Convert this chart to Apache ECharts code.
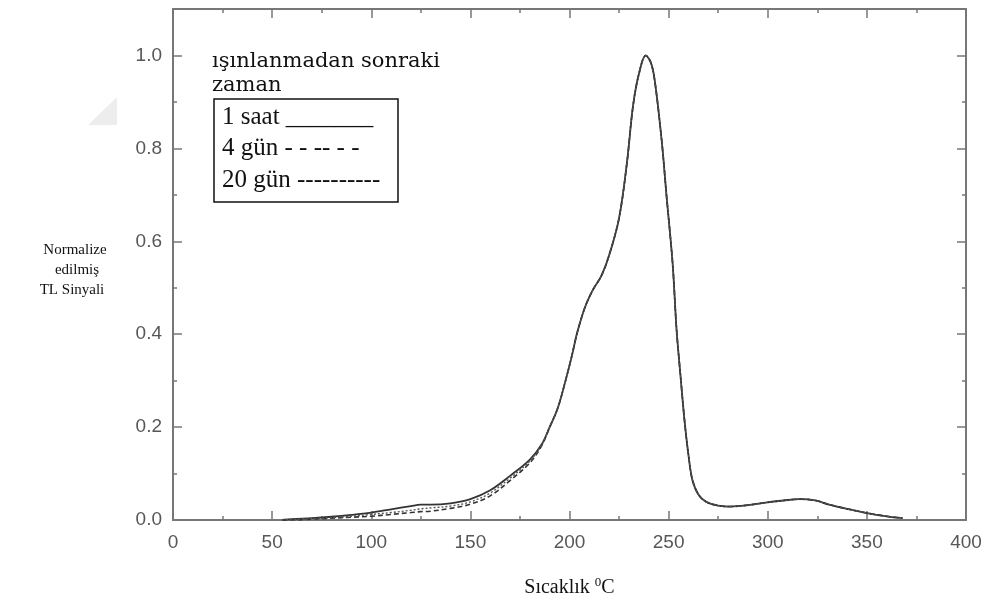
<!DOCTYPE html>
<html>
<head>
<meta charset="utf-8">
<script src="https://cdn.jsdelivr.net/npm/echarts@6/dist/echarts.min.js"></script>
<style>
html,body{margin:0;padding:0;background:#fff;}
#chart{width:986px;height:599px;}
</style>
</head>
<body>
<div id="chart"></div>
<script>
// Temperature (°C)
const temps = [55,60,70,80,90,100,110,120,125,130,140,150,160,170,180,186,190,194,198,201,204,208,212,216,220,225,229,232,235,238.5,241,243,246.5,249,252,254,256,258,260,262,265,269,275,281,290,298,308,316,324,331,340,350,360,368];
// Normalised TL signal — 1 saat (solid)
const saat1 = [0,0.002,0.004,0.007,0.011,0.016,0.023,0.030,0.033,0.033,0.036,0.045,0.064,0.095,0.130,0.163,0.200,0.240,0.300,0.350,0.405,0.460,0.497,0.525,0.570,0.650,0.770,0.890,0.960,1.000,0.985,0.946,0.817,0.695,0.553,0.410,0.310,0.215,0.140,0.086,0.055,0.039,0.031,0.029,0.032,0.037,0.042,0.045,0.042,0.033,0.024,0.015,0.008,0.004];
// 4 gün (dashed)
const gun4 = [0,0,0.002,0.004,0.006,0.008,0.012,0.016,0.018,0.019,0.025,0.034,0.052,0.085,0.123,0.160,0.200,0.240,0.300,0.350,0.405,0.460,0.497,0.525,0.570,0.650,0.770,0.890,0.960,1.000,0.985,0.946,0.817,0.695,0.553,0.410,0.310,0.215,0.140,0.086,0.055,0.039,0.031,0.029,0.032,0.037,0.042,0.045,0.042,0.033,0.024,0.015,0.008,0.004];
// 20 gün (fine dashed)
const gun20 = [0,0.001,0.003,0.005,0.008,0.012,0.016,0.021,0.024,0.026,0.030,0.039,0.058,0.090,0.127,0.162,0.200,0.240,0.300,0.350,0.405,0.460,0.497,0.525,0.570,0.650,0.770,0.890,0.960,1.000,0.985,0.946,0.817,0.695,0.553,0.410,0.310,0.215,0.140,0.086,0.055,0.039,0.031,0.029,0.032,0.037,0.042,0.045,0.042,0.033,0.024,0.015,0.008,0.004];

const legendTitle = ['ışınlanmadan sonraki', 'zaman'];
const legendItems = ['1 saat _______', '4 gün - - -- - -', '20 gün ----------'];
const yName = ['Normalize', 'edilmiş', 'TL Sinyali'];

const pairs = arr => temps.map((t, i) => [t, arr[i]]);

const axisGray = '#777777';
const labelStyle = {color: '#575757', fontFamily: 'Liberation Sans, Arial, sans-serif', fontSize: 19};

function xAx(pos, showLabel) {
  return {
    type: 'value', position: pos, min: 0, max: 400, interval: 50,
    axisLine: {show: true, onZero: false, lineStyle: {color: axisGray, width: 2}},
    axisTick: {show: true, inside: true, length: 9, lineStyle: {color: axisGray, width: 1.5}},
    minorTick: {show: true, splitNumber: 2, length: 4, lineStyle: {color: axisGray, width: 1.5}},
    splitLine: {show: false},
    axisLabel: Object.assign({show: showLabel, margin: 13}, labelStyle),
    name: showLabel ? 'Sıcaklık {sup|0}C' : '',
    nameLocation: 'middle', nameGap: 56,
    nameTextStyle: {
      color: '#111', fontFamily: 'Liberation Serif, Times New Roman, serif', fontSize: 20,
      rich: {sup: {fontSize: 13, verticalAlign: 'top', padding: [0,0,10,0], color: '#111', fontFamily: 'Liberation Serif, serif'}}
    }
  };
}
function yAx(pos, showLabel) {
  return {
    type: 'value', position: pos, min: 0, max: 1.1, interval: 0.2,
    axisLine: {show: true, onZero: false, lineStyle: {color: axisGray, width: 2}},
    axisTick: {show: true, inside: true, length: 9, lineStyle: {color: axisGray, width: 1.5}},
    minorTick: {show: true, splitNumber: 2, length: 4, lineStyle: {color: axisGray, width: 1.5}},
    splitLine: {show: false},
    axisLabel: Object.assign({show: showLabel, margin: 11, showMaxLabel: false,
      formatter: v => v > 1.05 ? '' : v.toFixed(1)}, labelStyle)
  };
}

const chart = echarts.init(document.getElementById('chart'), null, {renderer: 'canvas'});
const lineColor = '#333333';
const serif = '"Liberation Serif", "Times New Roman", serif';
chart.setOption({
  animation: false,
  backgroundColor: '#ffffff',
  grid: {left: 173, top: 9, right: 20, bottom: 79, containLabel: false, outerBoundsMode: 'none'},
  xAxis: [xAx('bottom', true), xAx('top', false)],
  yAxis: [yAx('left', true), yAx('right', false)],
  series: [
    {name: '1 saat', type: 'line', data: pairs(saat1), smooth: 0.35, showSymbol: false,
     lineStyle: {color: lineColor, width: 1.8, type: 'solid'}, z: 3},
    {name: '4 gün', type: 'line', data: pairs(gun4), smooth: 0.35, showSymbol: false,
     lineStyle: {color: lineColor, width: 1.6, type: [5, 3]}, z: 4},
    {name: '20 gün', type: 'line', data: pairs(gun20), smooth: 0.35, showSymbol: false,
     lineStyle: {color: '#555', width: 1.4, type: [2, 2]}, z: 5}
  ],
  graphic: [
    {type: 'polygon', shape: {points: [[88,125],[117,97],[117,125]]}, style: {fill: '#ededed'}, silent: true},
    {type: 'text', x: 212, y: 62, style: {text: legendTitle[0], font: '21px "DejaVu Serif", serif', fill: '#111', textVerticalAlign: 'middle'}},
    {type: 'text', x: 212, y: 86, style: {text: legendTitle[1], font: '21px "DejaVu Serif", serif', fill: '#111', textVerticalAlign: 'middle'}},
    {type: 'rect', shape: {x: 214, y: 99, width: 184, height: 103}, style: {fill: 'none', stroke: '#111', lineWidth: 1.5}},
    {type: 'text', x: 222, y: 117, style: {text: legendItems[0], font: '25px ' + serif, fill: '#111', textVerticalAlign: 'middle'}},
    {type: 'text', x: 222, y: 148, style: {text: legendItems[1], font: '25px ' + serif, fill: '#111', textVerticalAlign: 'middle'}},
    {type: 'text', x: 222, y: 180, style: {text: legendItems[2], font: '25px ' + serif, fill: '#111', textVerticalAlign: 'middle'}},
    {type: 'text', x: 75, y: 250, style: {text: yName[0], font: '15px ' + serif, fill: '#111', textAlign: 'center', textVerticalAlign: 'middle'}},
    {type: 'text', x: 77, y: 270, style: {text: yName[1], font: '15px ' + serif, fill: '#111', textAlign: 'center', textVerticalAlign: 'middle'}},
    {type: 'text', x: 72, y: 290, style: {text: yName[2], font: '15px ' + serif, fill: '#111', textAlign: 'center', textVerticalAlign: 'middle'}}
  ]
});
</script>
</body>
</html>
